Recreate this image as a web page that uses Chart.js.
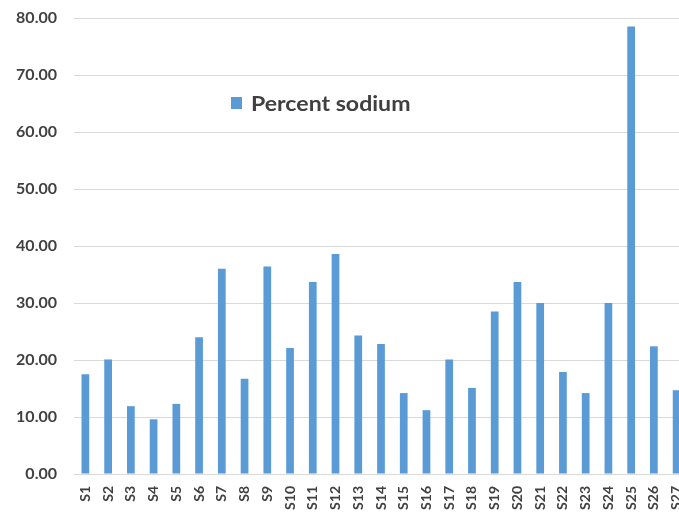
<!DOCTYPE html>
<html>
<head>
<meta charset="utf-8">
<script src="https://cdn.jsdelivr.net/npm/chart.js@4/dist/chart.umd.min.js"></script>
<style>
html,body{margin:0;padding:0;overflow:hidden;background:#fff;}
#c{display:block;}
</style>
</head>
<body>
<canvas id="c" width="688" height="513"></canvas>
<script>
const categories = ["S1","S2","S3","S4","S5","S6","S7","S8","S9","S10","S11","S12","S13","S14","S15","S16","S17","S18","S19","S20","S21","S22","S23","S24","S25","S26","S27"];
const percentSodium = [17.5,20.1,11.9,9.6,12.3,24.0,36.0,16.7,36.4,22.1,33.7,38.6,24.3,22.8,14.2,11.2,20.1,15.1,28.5,33.7,30.0,17.9,14.2,30.0,78.5,22.4,14.7];
const seriesLabel = "Percent sodium";
const yMin = 0, yMax = 80, yStep = 10;

const legendPlugin = {
  id: 'insideLegend',
  afterDraw(chart) {
    const ctx = chart.ctx;
    const ds = chart.data.datasets[0];
    ctx.save();
    ctx.fillStyle = ds.backgroundColor;
    ctx.fillRect(231, 97, 11, 12);
    ctx.fillStyle = '#404040';
    ctx.font = 'bold 21px Lato';
    ctx.textBaseline = 'middle';
    ctx.textAlign = 'left';
    ctx.translate(251, 104);
    ctx.scale(1.1, 1);
    ctx.fillText(ds.label, 0, 0);
    ctx.restore();
  }
};

new Chart(document.getElementById('c'), {
  type: 'bar',
  data: {
    labels: categories,
    datasets: [{
      label: seriesLabel,
      data: percentSodium,
      backgroundColor: '#5b9bd5',
      borderWidth: 0,
      categoryPercentage: 1.0,
      barPercentage: 0.34
    }]
  },
  options: {
    responsive: false,
    animation: false,
    layout: { padding: { top: 18, left: 0, right: 0, bottom: 0 } },
    plugins: { legend: { display: false }, tooltip: { enabled: false } },
    scales: {
      x: {
        grid: { display: false, drawTicks: false },
        border: { display: true, color: '#d9d9d9', width: 1 },
        ticks: {
          autoSkip: false, maxRotation: 90, minRotation: 90,
          color: '#404040', font: { family: 'Lato', size: 14, weight: 'bold' },
          padding: 12
        },
        afterFit(scale) { scale.height = 39; scale.paddingLeft = 0; scale.paddingRight = 0; }
      },
      y: {
        min: yMin, max: yMax,
        grid: { color: '#d9d9d9', lineWidth: 1, drawTicks: false },
        border: { display: false },
        ticks: {
          stepSize: yStep,
          color: '#404040', font: { family: 'Lato', size: 16, weight: 'bold' },
          padding: 17,
          callback: v => v.toFixed(2)
        },
        afterFit(scale) { scale.width = 74; scale.paddingTop = 0; scale.paddingBottom = 0; }
      }
    }
  },
  plugins: [legendPlugin]
});
</script>
</body>
</html>
